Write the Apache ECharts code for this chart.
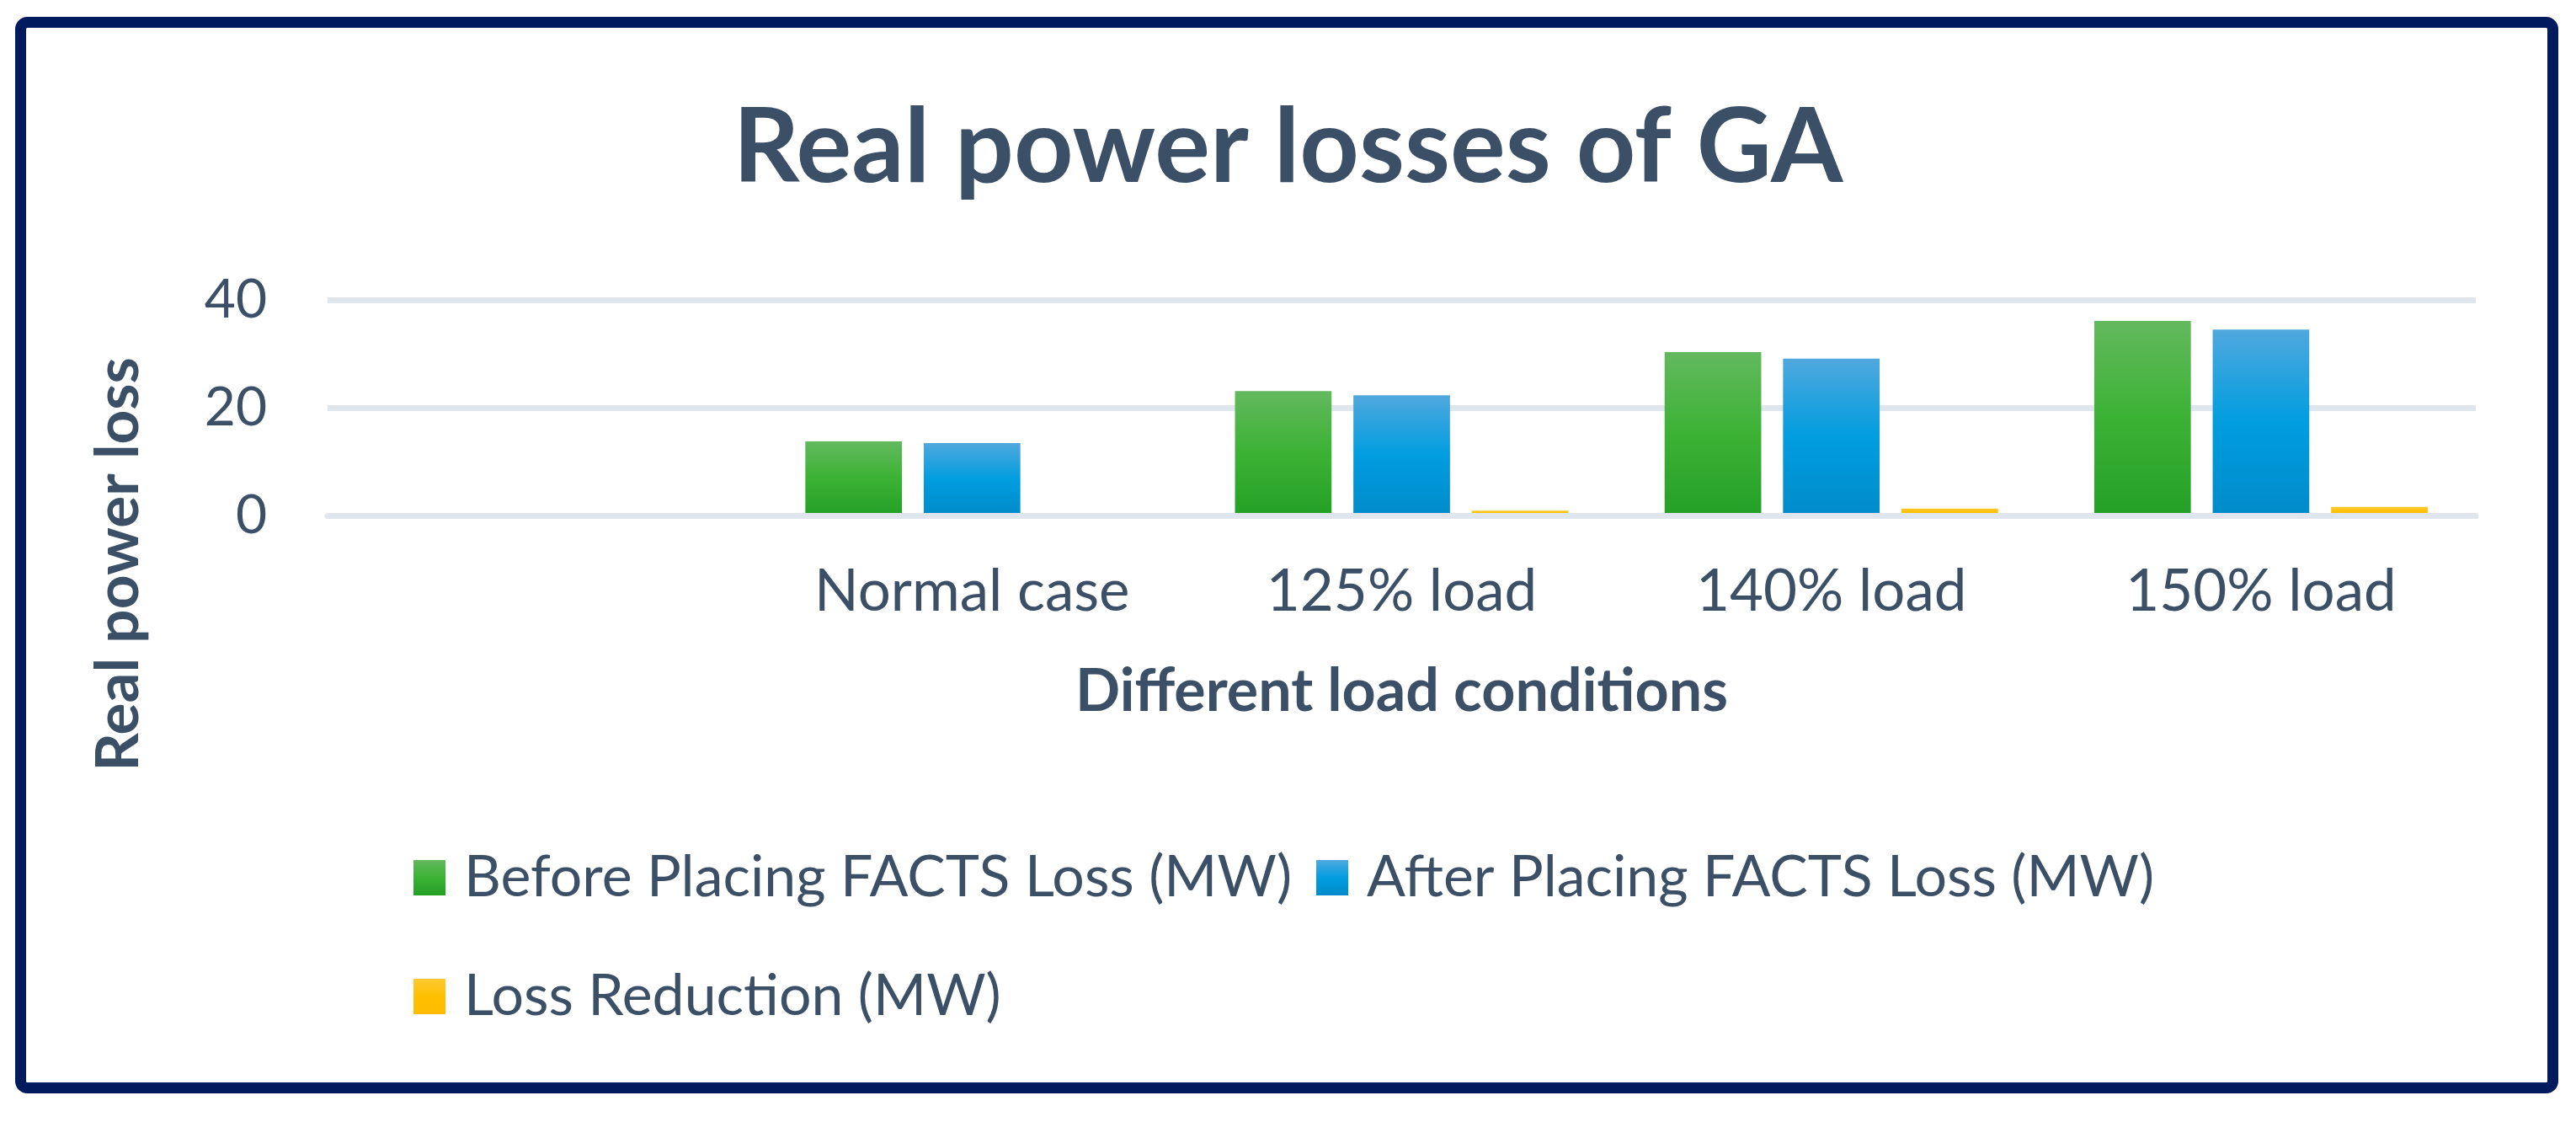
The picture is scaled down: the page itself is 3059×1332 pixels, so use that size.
<!DOCTYPE html>
<html>
<head>
<meta charset="utf-8">
<script src="https://cdn.jsdelivr.net/npm/echarts@6/dist/echarts.min.js"></script>
<style>
html,body{margin:0;padding:0;background:#fff;}
#chart{width:3059px;height:1332px;}
</style>
</head>
<body>
<div id="chart"></div>
<script>
const categories = ['', 'Normal case', '125% load', '140% load', '150% load'];
const seriesNames = ['Before Placing FACTS Loss (MW)', 'After Placing FACTS Loss (MW)', 'Loss Reduction (MW)'];
const beforeLoss = [null, 13.75, 23.1, 30.3, 36.1];
const afterLoss = [null, 13.45, 22.3, 29.1, 34.5];
const lossReduction = [null, 0.3, 0.9, 1.3, 1.6];
const yMin = 0, yMax = 40, yInterval = 20;

const textColor = '#3b4f67';
const gridColor = '#dfe6ee';
const fontFamily = 'Lato';

function grad(c0, c1, c2) {
  return {type: 'linear', x: 0, y: 0, x2: 0, y2: 1,
    colorStops: [{offset: 0, color: c0}, {offset: 0.5, color: c1}, {offset: 1, color: c2}]};
}
const colors = [
  grad('#63b95e', '#3bb234', '#24a026'),
  grad('#50a8de', '#009ddf', '#008bca'),
  grad('#ffc933', '#ffc000', '#ffbb00')
];
const seriesData = [beforeLoss, afterLoss, lossReduction];

const legendText = {fontFamily: fontFamily, fontSize: 68, color: textColor, lineHeight: 68, padding: [0, 0, 0, 17]};

const chart = echarts.init(document.getElementById('chart'));
chart.setOption({
  animation: false,
  backgroundColor: '#ffffff',
  title: {
    text: 'Real power losses of GA',
    left: 'center',
    top: 106,
    textStyle: {fontFamily: fontFamily, fontWeight: 'bold', fontSize: 123, color: textColor, lineHeight: 130}
  },
  graphic: [
    {type: 'rect', shape: {x: 24.5, y: 26.5, width: 3007, height: 1265, r: 8},
     style: {fill: 'none', stroke: '#001a5e', lineWidth: 13}, z: 100},
    {type: 'text', x: 141, y: 670, rotation: Math.PI / 2,
     style: {text: 'Real power loss', fontFamily: fontFamily, fontWeight: 'bold', fontSize: 71,
       fill: textColor, align: 'center', verticalAlign: 'middle'}}
  ],
  legend: [
    {data: [seriesNames[0], seriesNames[1]], left: 491, top: 1008, orient: 'horizontal', padding: 0,
     itemWidth: 38, itemHeight: 42, itemGap: 29, icon: 'rect', textStyle: legendText},
    {data: [seriesNames[2]], left: 491, top: 1149, orient: 'horizontal', padding: 0,
     itemWidth: 38, itemHeight: 42, itemGap: 29, icon: 'rect', textStyle: legendText}
  ],
  grid: {left: 389, right: 119, top: 356, bottom: 720, containLabel: false},
  xAxis: {
    type: 'category',
    data: categories,
    z: 10,
    name: 'Different load conditions',
    nameLocation: 'middle',
    nameGap: 174,
    nameTextStyle: {fontFamily: fontFamily, fontWeight: 'bold', fontSize: 70, color: textColor},
    axisLine: {show: true, lineStyle: {color: gridColor, width: 7}},
    axisTick: {show: false},
    axisLabel: {margin: 56, fontFamily: fontFamily, fontSize: 69, color: textColor},
    splitLine: {show: false}
  },
  yAxis: {
    type: 'value',
    min: yMin, max: yMax, interval: yInterval,
    axisLine: {show: false},
    axisTick: {show: false},
    axisLabel: {margin: 72, fontFamily: fontFamily, fontSize: 64, color: textColor},
    splitLine: {show: true, lineStyle: {color: gridColor, width: 7}}
  },
  series: seriesNames.map((n, i) => ({
    name: n,
    type: 'bar',
    data: seriesData[i],
    barGap: '22.6%',
    barCategoryGap: '22.4%',
    itemStyle: {color: colors[i]}
  }))
});
</script>
</body>
</html>
